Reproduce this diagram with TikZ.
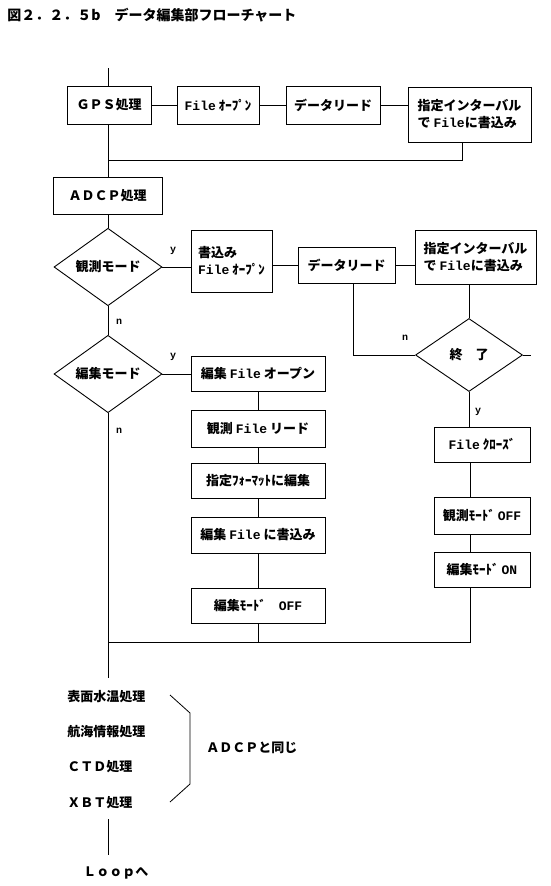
\documentclass[tikz,border=0pt]{standalone}
\usepackage{fontspec}
\setmainfont{Noto Sans CJK JP}
\newfontfamily\monof{Liberation Mono}
\usetikzlibrary{shapes.geometric}
\newcommand\boxfont{\fontsize{13}{17}\selectfont\bfseries}
\newcommand\fl{{\monof\bfseries File}}
\begin{document}
\begin{tikzpicture}[x=1pt,y=-1pt,
  line width=0.8pt,
  box/.style={draw, line width=0.9pt, inner sep=0pt, align=center, font=\boxfont},
  bx/.style 2 args={box, minimum width=#1pt, minimum height=#2pt},
  dia/.style 2 args={draw, diamond, line width=0.9pt, inner sep=0pt, font=\boxfont, minimum width=#1pt, minimum height=#2pt},
  lab/.style={font=\fontsize{10}{12}\selectfont\monof\bfseries, inner sep=0pt},
  txt/.style={font=\boxfont, inner sep=0pt, anchor=west}]
\useasboundingbox (0,0) rectangle (550,886);
% title
\node[font=\fontsize{14}{17}\selectfont\bfseries, anchor=west, inner sep=0pt] (title) at (7,15) {図２．２．５b　データ編集部フローチャート};
% coordinates of the main line
\coordinate (m0) at (108,68);
\coordinate (j1) at (108,160);
\coordinate (j2) at (462,160);
\coordinate (rx) at (470,0);
\coordinate (d2x) at (353,355);
\coordinate (stub) at (531,355);
\coordinate (m1) at (108,678);
\coordinate (b1) at (108,642);
\coordinate (b2) at (470,642);
\coordinate (l1) at (108,819);
\coordinate (l2) at (108,855);
% GPS row
\node[bx={84}{38}] (gps) at (109,105) {ＧＰＳ処理};
\node[bx={82}{38}] (fopen) at (218,105) {\fl\ ｵｰﾌﾟﾝ};
\node[bx={94}{38}] (dread) at (333,105) {データリード};
\node[bx={123}{55}, align=left] (intv) at (469.5,114.5) {指定インターバル\\で \fl に書込み};
% ADCP
\node[bx={109}{37}] (adcp) at (107.5,195.5) {ＡＤＣＰ処理};
\node[dia={108}{70}] (obs) at (108,267) {観測モード};
\node[bx={81}{62}, align=left] (wopen) at (231.5,261) {書込み\\\fl\ ｵｰﾌﾟﾝ};
\node[bx={97}{36}] (dread2) at (346.5,265) {データリード};
\node[bx={121}{54}, align=left] (intv2) at (475.5,257) {指定インターバル\\で \fl に書込み};
\node[dia={107}{73}] (endd) at (469,355) {終　了};
\node[dia={108}{73}] (edit) at (108,374) {編集モード};
% edit column
\node[bx={134}{35}] (eopen) at (258,373.5) {編集 \fl\ オープン};
\node[bx={134}{37}] (oread) at (258,428.5) {観測 \fl\ リード};
\node[bx={134}{35}] (fmt) at (258,480.5) {指定ﾌｫｰﾏｯﾄに編集};
\node[bx={134}{36}] (ewrite) at (258,535) {編集 \fl\ に書込み};
\node[bx={134}{35}] (eoff) at (258,605.5) {編集ﾓｰﾄﾞ　{\monof\bfseries OFF}};
% right column
\node[bx={96}{35}] (fclose) at (482,444.5) {\fl\ ｸﾛｰｽﾞ};
\node[bx={96}{37}] (ooff) at (482,515.5) {観測ﾓｰﾄﾞ {\monof\bfseries OFF}};
\node[bx={96}{35}] (eon) at (482,569.5) {編集ﾓｰﾄﾞ {\monof\bfseries ON}};
% labels
\node[lab] (y1) at (173,251) {y};
\node[lab] (n1) at (119,322) {n};
\node[lab] (y2) at (173,357) {y};
\node[lab] (n2) at (119,431) {n};
\node[lab] (n3) at (405,338) {n};
\node[lab] (y3) at (478,412) {y};
% connectors top
\draw (m0) -- (m0 |- gps.north);
\draw (gps) -- (fopen);
\draw (fopen) -- (dread);
\draw (dread.east) -- (dread.east -| intv.west);
\draw (gps.south -| m0) -- (adcp.north -| m0);
\draw (j1) -- (j2) -- (j2 |- intv.south);
\draw (adcp.south -| m0) -- (obs.north);
% observation branch
\draw (obs.east) -- (obs.east -| wopen.west);
\draw (dread2.west -| wopen.east) -- (dread2.west);
\draw (dread2.east) -- (dread2.east -| intv2.west);
\draw (dread2.south -| d2x) -- (d2x) -- (endd.west);
\draw (intv2.south -| endd.north) -- (endd.north);
\draw (endd.east) -- (stub);
\draw (endd.south) -- (endd.south |- fclose.north);
\draw (fclose.south -| rx) -- (ooff.north -| rx);
\draw (ooff.south -| rx) -- (eon.north -| rx);
% edit branch
\draw (obs.south) -- (edit.north);
\draw (edit.east) -- (edit.east -| eopen.west);
\draw (eopen) -- (oread);
\draw (oread) -- (fmt);
\draw (fmt) -- (ewrite);
\draw (ewrite) -- (eoff);
\draw (eoff.south) -- (eoff.south |- b1);
\draw (edit.south) -- (m1);
\draw (b1) -- (b2) -- (b2 |- eon.south);
% bottom list
\node[txt] (t1) at (67,697) {表面水温処理};
\node[txt] (t2) at (67,732) {航海情報処理};
\node[txt] (t3) at (67,767) {ＣＴＤ処理};
\node[txt] (t4) at (67,803) {ＸＢＴ処理};
\coordinate (br1) at (170,695);
\coordinate (br2) at (190,713);
\coordinate (br3) at (190,784);
\coordinate (br4) at (170,802);
\draw (br1) -- (br2) -- (br3) -- (br4);
\node[txt] (same) at (206,748) {ＡＤＣＰと同じ};
\draw (l1) -- (l2);
\node[txt] (loop) at (83,873) {Ｌｏｏｐへ};
\end{tikzpicture}
\end{document}
